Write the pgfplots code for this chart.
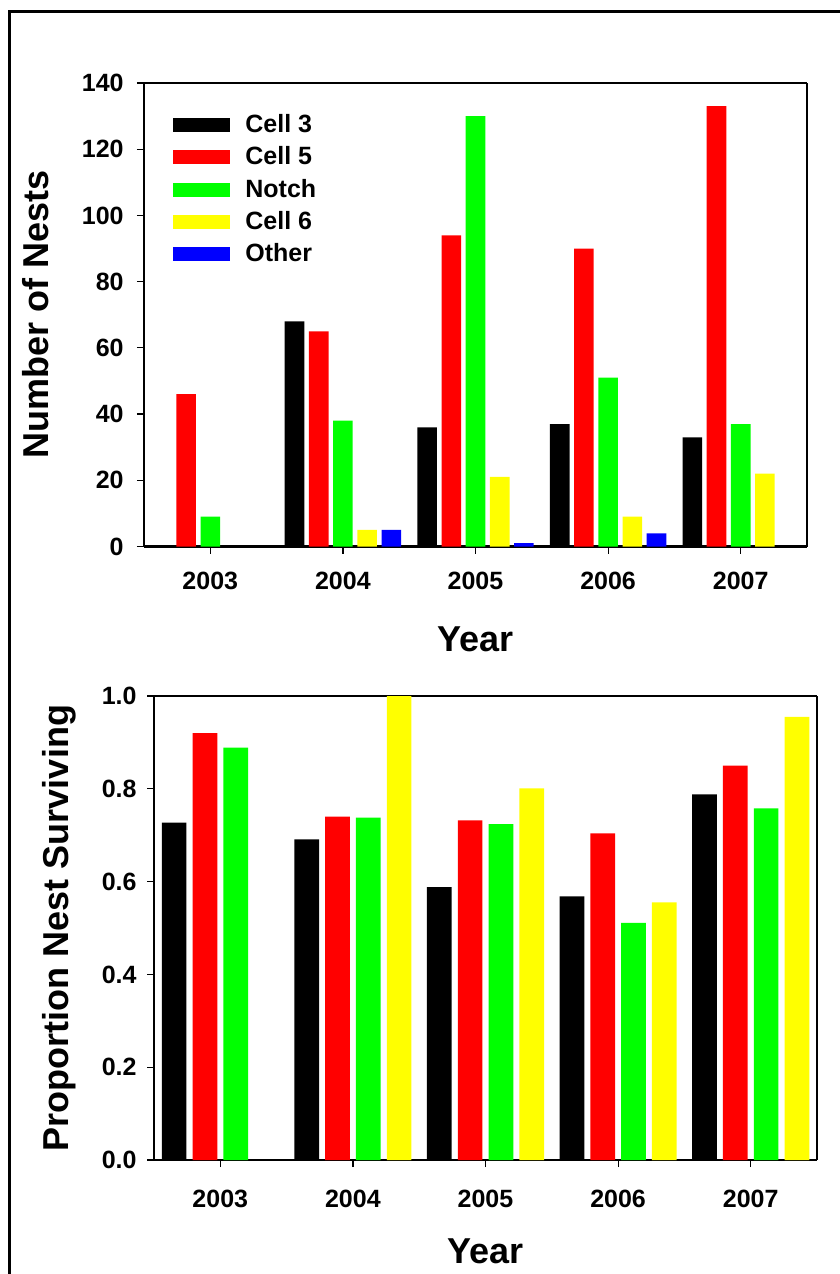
\documentclass[border=0pt]{standalone}
\usepackage{fontspec}
\setmainfont{Liberation Sans}
\usepackage{pgfplots}
\pgfplotsset{compat=1.18}
\definecolor{cred}{RGB}{255,0,0}
\definecolor{cgreen}{RGB}{0,255,0}
\definecolor{cyellow}{RGB}{255,255,0}
\definecolor{cblue}{RGB}{0,0,255}
\newcommand{\tickfont}{\bfseries\fontsize{12.5}{14}\selectfont}
\newcommand{\labfont}{\bfseries\fontsize{18}{20}\selectfont}
\pgfplotsset{
  common/.style={
    scale only axis, width=331.5pt,
    xmin=-0.5, xmax=4.5,
    xtick={0,1,2,3,4}, xticklabels={2003,2004,2005,2006,2007},
    separate axis lines,
    every outer x axis line/.append style={line width=1.4pt},
    every outer y axis line/.append style={line width=0.6pt},
    tick align=outside, xtick pos=left, ytick pos=left,
    major tick length=3.5pt,
    tick style={line width=0.6pt, black},
    /pgf/number format/assume math mode=true,
    ticklabel style={font=\tickfont},
    xlabel={Year},
    xlabel style={anchor=north, inner sep=0pt, font=\labfont},
    ylabel style={anchor=base, inner sep=0pt, font=\labfont},
  },
  lg/.style={legend image code/.code={\fill[##1, draw=none] (0pt,-3.5pt) rectangle (28.5pt,3.5pt);}},
}
\begin{document}
\begin{tikzpicture}
\useasboundingbox (0,0) rectangle (420pt,-637pt);
\draw[line width=1.5pt] (4.75pt,-5.5pt) rectangle (440pt,-660pt);
% top chart
\begin{axis}[common,
  at={(72pt,-273.25pt)}, anchor=south west,
  height=231.75pt,
  ymin=0, ymax=140, ytick={0,20,...,140},
  xticklabel style={inner sep=0pt, anchor=north, yshift=-9pt},
  yticklabel style={inner sep=0pt, anchor=east, xshift=-6.5pt},
  ylabel={Number of Nests},
  xlabel style={at={(axis description cs:0.5,-0.1726)}},
  ylabel style={at={(axis description cs:-0.1433,0.5)}},
  ybar=2.3pt, bar width=9.8pt,
  legend style={at={(axis description cs:0.0437,0.933)}, anchor=north west,
    draw=none, fill=none, inner sep=0pt, row sep=5.6pt, column sep=7.5pt,
    font=\tickfont, nodes={inner sep=0pt}},
  legend cell align=left,
]
\addplot[lg, fill=black, draw=none] coordinates {(1,68) (2,36) (3,37) (4,33)};
\addplot[lg, fill=cred, draw=none] coordinates {(0,46) (1,65) (2,94) (3,90) (4,133)};
\addplot[lg, fill=cgreen, draw=none] coordinates {(0,9) (1,38) (2,130) (3,51) (4,37)};
\addplot[lg, fill=cyellow, draw=none] coordinates {(1,5) (2,21) (3,9) (4,22)};
\addplot[lg, fill=cblue, draw=none] coordinates {(1,5) (2,1) (3,4)};
\legend{Cell 3, Cell 5, Notch, Cell 6, Other}
\end{axis}
% bottom chart
\begin{axis}[common,
  at={(77pt,-580pt)}, anchor=south west,
  height=232pt,
  ymin=0, ymax=1, ytick={0,0.2,...,1.0},
  xticklabel style={inner sep=0pt, anchor=north, yshift=-11.5pt},
  yticklabel style={inner sep=0pt, anchor=east, xshift=-5pt,
    /pgf/number format/.cd, fixed, fixed zerofill, precision=1},
  ylabel={Proportion Nest Surviving},
  xlabel style={at={(axis description cs:0.5,-0.168)}},
  ylabel style={at={(axis description cs:-0.1297,0.5)}},
  ybar=3.05pt, bar width=12.35pt,
]
\addplot[fill=black, draw=none] coordinates {(0,0.727) (1,0.691) (2,0.588) (3,0.568) (4,0.788)};
\addplot[fill=cred, draw=none] coordinates {(0,0.920) (1,0.740) (2,0.732) (3,0.704) (4,0.850)};
\addplot[fill=cgreen, draw=none] coordinates {(0,0.889) (1,0.738) (2,0.724) (3,0.511) (4,0.758)};
\addplot[fill=cyellow, draw=none] coordinates {(1,1.0) (2,0.801) (3,0.555) (4,0.955)};
\end{axis}
\end{tikzpicture}
\end{document}
